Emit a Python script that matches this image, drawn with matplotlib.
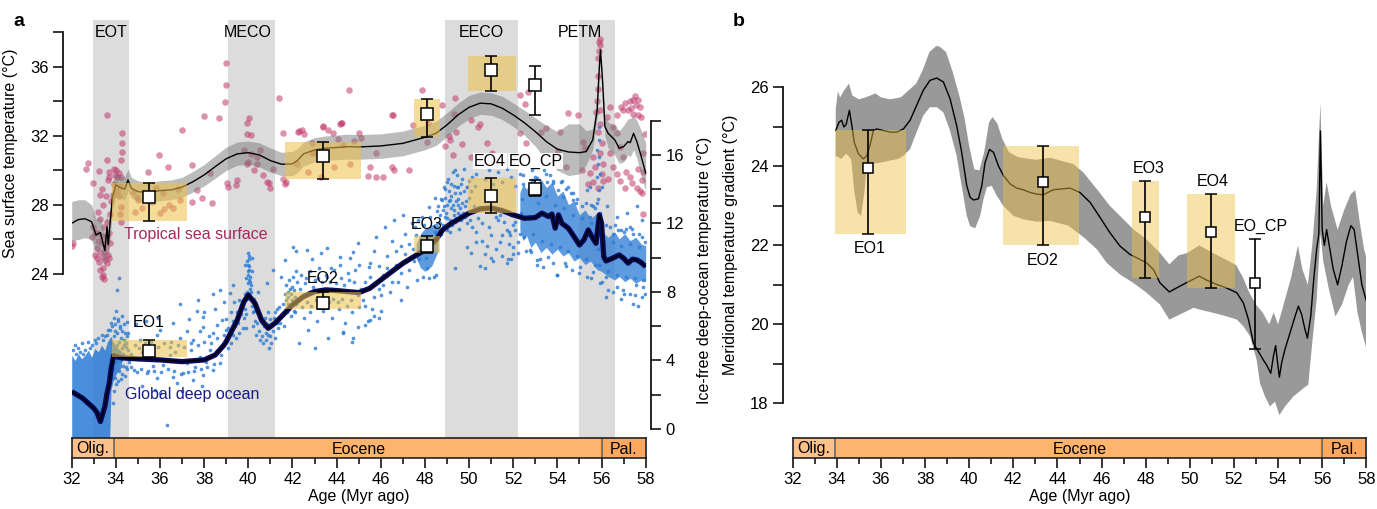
import numpy as np
import matplotlib.pyplot as plt
from matplotlib.ticker import MultipleLocator, FixedLocator

plt.rcParams['font.family'] = ['Liberation Sans', 'DejaVu Sans']
plt.rcParams['font.size'] = 11.5

# ---------------- data: panel a ----------------
events = ['EOT', 'MECO', 'EECO', 'PETM']
event_start = [32.95, 39.1, 48.9, 55.0]
event_end = [34.6, 41.2, 52.2, 56.6]
event_label_x = [33.78, 39.95, 50.55, 55.0]

# tropical SST smoothed curve and ribbon
sst_age = [32.0, 32.3, 32.6, 32.9, 33.1, 33.3, 33.5, 33.6, 33.65, 33.75, 33.85, 34.0, 34.2, 34.4,
           34.55, 34.7, 35.0, 35.5, 36.0, 36.5, 37.0, 37.5, 38.0, 38.5, 39.0, 39.5, 40.0, 40.5,
           41.0, 41.5, 42.0, 42.25, 42.5, 43.0, 43.5, 44.0, 44.5, 45.0, 46.0, 47.0, 48.0, 48.5,
           49.0, 49.5, 50.0, 50.5, 51.0, 51.5, 52.0, 52.5, 53.0, 53.5, 54.0, 54.5, 55.0, 55.3,
           55.6, 55.8, 55.9, 55.95, 56.05, 56.15, 56.3, 56.6, 56.8, 57.0, 57.2, 57.3, 57.45,
           57.6, 57.8, 58.0]
sst_mid = [26.94, 27.15, 27.2, 27.03, 26.26, 26.4, 25.35, 26.74, 25.7, 27.13, 28.48, 29.16, 29.0,
           28.91, 29.45, 28.97, 28.77, 28.71, 28.83, 28.87, 29.03, 29.35, 29.74, 30.22, 30.68,
           30.96, 31.03, 30.9, 30.57, 30.36, 30.38, 30.6, 30.96, 31.19, 31.29, 31.33, 31.38,
           31.36, 31.42, 31.57, 31.92, 32.15, 32.64, 33.22, 33.66, 33.9, 33.86, 33.61, 33.22,
           32.77, 32.25, 31.67, 31.23, 31.07, 31.03, 31.09, 31.77, 33.51, 36.02, 36.99, 35.06,
           32.54, 32.15, 31.77, 31.29, 31.38, 31.67, 31.61, 32.15, 31.67, 30.8, 29.84]
sst_lo = [25.9, 26.0, 26.1, 26.0, 25.3, 25.5, 24.5, 25.9, 24.9, 26.3, 27.7, 28.5, 28.4, 28.3,
          28.8, 28.4, 28.2, 28.15, 28.25, 28.3, 28.45, 28.75, 29.1, 29.55, 30.0, 30.3, 30.35,
          30.2, 29.9, 29.7, 29.7, 29.9, 30.25, 30.5, 30.6, 30.62, 30.65, 30.65, 30.7, 30.85,
          31.2, 31.45, 31.95, 32.55, 33.0, 33.25, 33.2, 32.95, 32.55, 32.05, 31.4, 30.6, 30.0,
          29.7, 29.8, 30.3, 31.2, 33.0, 35.6, 36.6, 34.6, 32.0, 31.3, 30.9, 30.4, 30.5, 30.9,
          30.8, 31.2, 30.7, 29.7, 28.8]
sst_hi = [28.2, 28.3, 28.3, 28.0, 27.2, 27.3, 26.3, 27.6, 26.6, 28.0, 29.3, 29.9, 29.7, 29.6,
          30.1, 29.6, 29.4, 29.3, 29.4, 29.45, 29.6, 29.95, 30.35, 30.85, 31.35, 31.65, 31.7,
          31.6, 31.3, 31.05, 31.1, 31.3, 31.65, 31.9, 32.0, 32.05, 32.1, 32.08, 32.12, 32.28,
          32.62, 32.85, 33.35, 33.9, 34.35, 34.55, 34.5, 34.3, 33.9, 33.5, 33.05, 32.6, 32.25,
          32.7, 32.7, 32.3, 32.4, 34.0, 36.4, 37.3, 35.5, 33.1, 32.8, 32.6, 32.3, 32.6, 33.0,
          33.0, 33.2, 32.9, 32.3, 31.6]

# tropical SST proxy points (age, deg C)
sst_pts = [
    (32.07, 25.78), (33.06, 25.1), (33.13, 25.49), (33.16, 26.36), (33.25, 24.71), (33.28, 25.29),
    (33.36, 25.78), (33.4, 24.33), (33.43, 23.94), (33.51, 24.81), (33.55, 25.58), (33.58, 26.16),
    (33.62, 24.62), (33.66, 25.1), (33.74, 25.78), (33.46, 26.74), (32.98, 26.74), (32.9, 26.16),
    (33.71, 26.36), (33.28, 24.23), (33.36, 23.85), (33.46, 23.73), (33.2, 25.9), (33.5, 25.3),
    (33.35, 26.2), (33.6, 25.9), (33.15, 24.9), (33.42, 25.0), (33.05, 26.4), (33.7, 24.9),
    (32.0, 25.6), (32.72, 30.45), (32.64, 30.1), (32.98, 29.29), (33.25, 29.99), (33.59, 33.22),
    (33.62, 30.61), (33.68, 29.9), (33.71, 29.6), (33.9, 30.1), (34.0, 30.0), (34.15, 29.85),
    (34.25, 29.6), (34.05, 29.6), (33.95, 29.75), (34.27, 32.15), (34.3, 31.57), (34.27, 31.09),
    (34.24, 30.6), (33.9, 29.2), (33.85, 28.6), (34.05, 28.8), (34.2, 29.1), (34.15, 28.5),
    (34.25, 27.9), (34.18, 27.5), (34.22, 27.0), (33.35, 28.9), (33.3, 28.6), (33.4, 28.0),
    (33.2, 27.6), (33.3, 27.2), (33.55, 28.5), (33.65, 29.45), (33.8, 28.2), (33.75, 27.5),
    (33.6, 27.0), (35.44, 29.93), (35.97, 30.9), (36.38, 30.22), (36.98, 32.35), (35.62, 28.19),
    (36.15, 28.68), (36.2, 27.75), (36.6, 27.8), (36.9, 28.29), (36.0, 27.52), (35.17, 27.81),
    (34.94, 28.48), (34.76, 28.77), (34.87, 27.61), (37.47, 30.32), (37.47, 28.19), (37.89, 28.39),
    (37.66, 28.87), (38.0, 33.18), (38.26, 29.84), (38.37, 28.1), (38.67, 33.02), (38.97, 36.25),
    (38.97, 34.96), (38.96, 33.99), (39.02, 29.29), (39.07, 29.06), (39.44, 29.16), (39.5, 29.45),
    (39.93, 32.77), (40.05, 33.02), (39.95, 32.1), (40.1, 32.06), (40.0, 30.51), (40.1, 30.94),
    (40.26, 30.03), (40.38, 30.4), (40.38, 30.8), (40.68, 29.74), (40.84, 29.35), (40.95, 29.25),
    (41.39, 34.22), (41.59, 32.15), (41.69, 29.31), (42.3, 32.3), (42.42, 32.35), (42.5, 32.1),
    (42.87, 31.0), (43.37, 32.5), (43.62, 32.35), (43.85, 32.15), (44.23, 32.73), (44.58, 34.67),
    (44.3, 31.48), (44.05, 31.8), (35.0, 28.3), (35.8, 29.0), (36.4, 28.0), (36.8, 28.9),
    (39.8, 31.2), (39.95, 30.4), (40.53, 31.19), (41.0, 29.0), (41.1, 30.1), (41.58, 29.5),
    (41.65, 29.2), (42.26, 32.2), (42.9, 31.6), (43.4, 32.55), (44.2, 32.75), (43.0, 31.0),
    (43.9, 30.2), (44.6, 30.4), (45.0, 32.15), (45.4, 29.7), (45.8, 29.6), (46.1, 29.6),
    (46.6, 30.0), (47.3, 30.0), (46.5, 33.2), (47.47, 32.64), (48.12, 32.73), (48.9, 31.4),
    (49.1, 32.0), (49.4, 32.2), (50.1, 32.9), (50.5, 32.7), (49.3, 33.3), (42.7, 29.9),
    (43.3, 29.6), (42.2, 30.4), (44.15, 32.7), (45.1, 31.9), (44.8, 31.7), (45.8, 31.0),
    (45.5, 30.2), (46.57, 33.22), (46.5, 30.2), (47.85, 34.67), (48.76, 33.8), (48.08, 31.67),
    (49.13, 31.77), (49.36, 34.18), (50.4, 32.54), (49.28, 30.9), (49.7, 31.54), (50.1, 30.8),
    (50.8, 31.57), (51.02, 30.99), (51.28, 30.38), (52.3, 34.38), (52.68, 34.57), (52.53, 33.86),
    (52.3, 32.15), (52.6, 31.57), (52.0, 30.8), (53.27, 32.25), (53.5, 32.45), (54.1, 32.25),
    (54.49, 33.31), (54.95, 33.2), (54.4, 30.2), (54.04, 31.1), (55.1, 30.0), (55.14, 31.67),
    (55.25, 31.28), (55.63, 30.8), (55.7, 30.2), (55.47, 29.84), (55.63, 29.35), (55.4, 29.2),
    (55.9, 37.47), (55.92, 37.25), (55.95, 37.6), (55.9, 36.9), (55.85, 36.5), (55.82, 35.5),
    (55.85, 34.7), (55.78, 34.0), (55.75, 33.4), (55.93, 32.7), (55.85, 32.2), (56.0, 31.6),
    (55.95, 31.0), (56.05, 30.4), (56.0, 29.8), (55.85, 29.0), (56.05, 29.4), (55.92, 33.5),
    (56.23, 33.12), (56.38, 33.7), (56.53, 32.54), (56.83, 31.38), (56.98, 33.5), (56.9, 33.7),
    (57.06, 33.9), (57.28, 34.0), (57.43, 34.1), (57.5, 34.3), (57.66, 34.1), (57.74, 33.7),
    (57.2, 33.5), (57.35, 33.6), (57.58, 33.8), (57.43, 33.3), (57.66, 33.2), (57.8, 33.1),
    (56.68, 33.2), (56.68, 32.15), (56.98, 30.8), (57.13, 29.93), (57.3, 29.6), (57.4, 29.3),
    (57.66, 30.1), (57.81, 29.45), (57.6, 29.0), (57.75, 28.8), (57.9, 29.9), (57.89, 27.5),
    (57.81, 28.68), (57.06, 29.0), (56.83, 29.4), (56.68, 29.8), (56.53, 30.2), (57.95, 32.1),
    (57.9, 31.0), (56.4, 31.0), (56.3, 29.5),
]

# deep-ocean smoothed curve
deep_age = [32.0, 32.5, 33.0, 33.15, 33.3, 33.5, 33.6, 33.7, 33.8, 33.9, 34.0, 34.2, 34.5, 35.0,
            36.0, 37.0, 38.0, 38.5, 38.9, 39.0, 39.5, 39.8, 40.0, 40.3, 40.6, 40.9, 41.2, 41.5,
            42.0, 42.5, 43.0, 43.5, 44.0, 44.5, 45.0, 45.5, 46.0, 46.5, 47.0, 47.5, 48.0, 48.5,
            48.8, 49.2, 49.6, 50.0, 50.5, 51.0, 51.5, 52.0, 52.5, 53.0, 53.3, 53.6, 53.75, 53.9,
            54.05, 54.2, 54.5, 54.8, 55.0, 55.2, 55.4, 55.6, 55.75, 55.9, 56.0, 56.1, 56.2, 56.5,
            56.8, 57.0, 57.2, 57.4, 57.6, 57.8, 58.0]
deep_mid = [2.18, 1.79, 1.21, 0.95, 0.43, 1.30, 2.08, 2.67, 3.64, 4.28, 4.22, 4.16, 4.13, 4.09,
            4.03, 3.93, 4.03, 4.32, 4.9, 5.1, 6.36, 7.43, 7.82, 7.34, 6.36, 5.88, 6.17, 6.56,
            7.24, 7.73, 8.02, 8.12, 8.08, 8.02, 7.96, 8.21, 8.7, 9.19, 9.67, 10.06, 10.45, 11.04,
            11.62, 12.01, 12.3, 12.6, 12.85, 12.9, 12.75, 12.5, 12.3, 12.34, 12.6, 12.4, 12.55,
            11.72, 12.5, 12.01, 11.72, 11.14, 10.74, 11.04, 11.62, 11.14, 10.84, 12.5, 12.01,
            10.06, 9.81, 9.97, 10.16, 9.97, 9.68, 9.91, 9.87, 9.71, 9.48]

# outlines of the densest point clouds (too many points to list one by one)
cloud1_age = [32.0, 32.15, 32.3, 32.45, 32.6, 32.75, 32.9, 33.05, 33.2, 33.35, 33.5, 33.62,
              33.72, 33.78, 33.9, 34.05, 34.25]
cloud1_lo = [-0.6, -0.6, -0.6, -0.6, -0.6, -0.6, -0.6, -0.6, -0.6, -0.6, -0.6, -0.6,
             -0.6, 2.3, 2.9, 3.3, 3.6]
cloud1_hi = [4.3, 4.0, 4.4, 4.1, 4.3, 4.6, 4.2, 4.7, 4.5, 4.9, 4.6, 5.1, 5.3, 5.4, 5.0, 4.8, 4.5]
cloud2_age = [52.3, 52.45, 52.6, 52.8, 53.0, 53.25, 53.5, 53.75, 54.0, 54.25, 54.5, 54.75, 55.0,
              55.25, 55.5, 55.8, 56.0, 56.3, 56.6, 56.8, 57.05, 57.3, 57.55, 57.8, 58.0]
cloud2_lo = [11.6, 11.0, 11.3, 10.6, 10.9, 10.3, 10.6, 10.2, 10.5, 10.1, 10.3, 9.8, 10.0, 9.6,
             9.8, 9.3, 9.2, 8.9, 8.7, 8.9, 8.6, 8.8, 8.5, 8.7, 8.6]
cloud2_hi = [13.8, 14.3, 14.0, 14.5, 14.3, 14.6, 14.1, 14.4, 13.6, 13.9, 13.1, 13.3, 12.5, 12.8,
             12.3, 12.6, 11.5, 11.2, 11.5, 11.1, 11.4, 11.0, 11.2, 10.8, 10.7]
cloud3_age = [47.6, 47.8, 48.0, 48.3, 48.6]
cloud3_lo = [10.0, 9.4, 9.2, 9.5, 10.4]
cloud3_hi = [10.8, 11.4, 11.7, 11.9, 12.1]

# deep-ocean proxy points (age, deg C)
deep_pts = [
    # EOT
    (32.05, 4.6), (32.15, 4.9), (32.3, 4.7), (32.45, 5.0), (32.6, 4.6), (32.75, 5.1), (32.9, 4.9),
    (33.05, 5.2), (33.2, 5.3), (33.35, 5.5), (33.5, 5.4), (33.65, 5.8), (32.2, 4.4), (32.38, 4.5),
    (32.52, 4.4), (32.82, 4.7), (33.12, 5.0), (33.42, 5.2), (33.58, 5.5),
    (33.75, 5.8), (33.8, 6.2), (33.9, 6.5), (34.0, 6.9), (34.1, 6.3), (34.2, 5.9), (34.3, 6.6),
    (34.4, 5.6), (34.05, 8.1), (34.15, 8.8), (33.95, 5.7), (34.25, 5.3), (34.35, 4.9), (34.5, 5.4),
    (34.45, 3.6), (34.3, 3.2), (34.1, 2.8), (33.9, 2.2), (33.85, 1.5), (33.95, 3.0), (34.55, 4.6),
    (34.6, 3.9), (34.49, 6.27),
    (33.78, 3.0), (33.8, 4.0), (33.82, 5.0), (33.84, 6.0), (33.88, 3.5), (33.9, 4.6), (33.92, 5.4),
    (33.96, 6.1), (34.0, 2.6), (34.02, 3.9), (34.04, 4.9), (34.06, 5.6), (34.08, 6.4), (34.12, 3.4),
    (34.14, 4.5), (34.16, 5.1), (34.18, 6.0), (34.22, 2.9), (34.24, 4.0), (34.26, 4.7), (34.28, 5.7),
    (34.32, 3.7), (34.34, 4.4), (34.36, 5.2), (34.38, 6.1), (34.42, 3.1), (34.44, 4.8), (34.48, 5.0),
    (34.52, 3.5), (34.56, 5.6),
    # late Eocene
    (35.1, 5.2), (35.85, 5.5), (36.0, 5.78), (36.45, 4.8), (36.9, 5.3), (37.2, 5.7), (37.5, 5.2),
    (37.8, 5.7), (37.96, 5.98), (38.2, 5.4), (38.4, 5.6), (38.57, 6.07), (38.8, 6.36), (39.0, 5.78),
    (36.6, 3.06), (37.06, 3.25), (36.75, 2.67), (35.85, 2.96), (35.4, 3.25), (34.8, 3.45),
    (37.5, 2.86), (37.96, 3.15), (38.4, 3.45), (38.7, 3.83), (36.3, 0.23), (35.77, 2.28),
    (34.7, 4.4), (36.15, 3.74), (37.2, 3.83), (38.1, 3.93), (35.55, 4.6), (36.45, 4.3), (37.4, 4.6),
    (38.27, 4.6), (37.8, 4.2), (35.2, 4.5), (35.7, 3.7), (36.7, 4.5), (37.6, 3.6), (38.4, 7.9),
    (38.7, 8.1), (37.7, 7.5), (36.9, 7.3), (37.66, 6.9), (37.96, 6.56), (39.17, 7.92), (39.32, 8.4),
    (34.7, 3.6), (34.85, 4.9), (34.95, 3.3), (35.05, 4.7), (35.15, 3.5), (35.3, 5.0), (35.45, 3.4),
    (35.6, 5.1), (35.75, 3.4), (35.9, 4.8), (36.05, 3.3), (36.2, 5.0), (36.35, 3.5), (36.5, 5.1),
    (36.65, 3.4), (36.8, 4.9), (36.95, 3.2), (37.1, 4.8), (37.25, 3.3), (37.4, 5.0), (37.55, 3.4),
    (37.7, 4.9), (37.85, 3.5), (38.0, 5.1), (38.15, 3.6), (38.3, 5.0), (38.45, 3.8), (38.6, 5.3),
    (38.75, 4.3), (34.9, 6.1), (35.35, 6.3), (35.9, 6.5), (36.6, 6.2), (37.3, 6.4), (38.0, 6.8),
    (38.5, 7.0), (38.9, 7.4), (35.2, 2.5), (36.0, 2.1), (37.0, 2.2), (37.9, 2.5),
    # MECO
    (40.0, 10.3), (40.02, 9.9), (39.98, 9.6), (40.05, 9.3), (40.0, 9.0), (40.03, 8.7), (39.97, 8.5),
    (40.07, 8.2), (40.0, 7.9), (39.95, 8.0), (40.08, 8.6), (40.04, 9.5), (40.1, 8.0), (39.92, 7.6),
    (40.01, 10.1), (39.99, 9.2), (40.06, 8.9), (39.96, 9.8), (40.12, 8.4), (40.18, 9.2),
    (39.88, 8.8), (39.84, 9.6), (40.15, 10.0),
    (39.2, 5.0), (39.4, 6.0), (39.5, 6.8), (39.6, 5.6), (39.7, 7.2), (39.8, 6.5), (39.85, 7.0),
    (39.3, 5.5), (39.1, 4.7), (39.6, 7.5), (40.2, 6.8), (40.3, 6.3), (40.4, 7.0), (40.5, 5.7),
    (40.6, 5.4), (40.7, 6.0), (40.8, 5.2), (40.9, 5.5), (41.0, 6.4), (41.1, 5.7), (41.2, 6.8),
    (41.3, 6.2), (41.4, 7.1), (41.5, 6.6), (40.35, 5.5), (40.55, 6.6), (40.45, 8.0), (40.25, 7.6),
    (41.05, 5.0), (40.95, 4.7), (39.9, 5.9), (41.13, 9.28), (41.5, 8.9), (40.83, 8.5), (41.66, 9.87),
    (38.9, 5.5), (39.0, 6.4), (39.1, 5.9), (39.2, 6.8), (39.3, 6.3), (39.35, 7.4), (39.45, 5.3),
    (39.55, 6.2), (39.65, 6.7), (39.75, 5.9), (39.85, 7.9), (39.9, 6.7), (40.15, 7.2), (40.2, 6.0),
    (40.28, 6.9), (40.4, 6.2), (40.48, 6.6), (40.52, 5.2), (40.62, 6.2), (40.68, 5.0), (40.75, 6.5),
    (40.78, 5.6), (40.85, 6.1), (40.9, 6.8), (41.0, 5.4), (41.05, 6.0), (41.15, 6.5), (41.2, 5.3),
    (41.3, 7.0), (41.35, 5.9), (41.45, 6.2), (41.55, 7.3), (41.6, 6.0),
    # middle Eocene
    (41.7, 7.5), (41.8, 8.0), (41.9, 7.2), (42.0, 8.3), (42.1, 7.7), (41.75, 6.8), (42.2, 8.6),
    (41.85, 8.7), (42.05, 6.9), (41.95, 7.9), (41.72, 7.0), (42.15, 7.3),
    (42.4, 9.0), (42.6, 8.8), (42.8, 9.2), (43.0, 8.7), (43.2, 9.4), (43.5, 9.0), (43.7, 8.6),
    (43.9, 9.3), (44.2, 8.8), (44.5, 9.1), (44.8, 8.6), (42.5, 6.5), (42.8, 6.8), (43.1, 6.3),
    (43.4, 6.9), (43.8, 6.5), (44.1, 7.0), (44.4, 6.2), (44.7, 6.8), (45.0, 7.1), (42.3, 5.0),
    (43.0, 4.7), (43.6, 5.3), (44.3, 5.6), (44.7, 5.1), (42.7, 5.8), (43.3, 10.3), (42.9, 9.9),
    (44.6, 10.0), (45.0, 9.6), (42.15, 10.4), (42.04, 10.65), (42.64, 10.45), (43.55, 10.55),
    (44.15, 10.06), (44.76, 10.36), (44.99, 10.84), (45.45, 9.48), (44.75, 5.3), (44.3, 5.66),
    (44.97, 5.95), (45.5, 6.34), (45.3, 6.05), (45.99, 6.9), (46.9, 7.5), (45.7, 6.6),
    (41.65, 7.9), (41.7, 8.4), (41.78, 7.3), (41.82, 7.7), (41.88, 8.2), (41.92, 6.6), (41.98, 7.5),
    (42.02, 8.9), (42.08, 8.1), (42.12, 6.8), (42.18, 9.2), (42.25, 7.6), (42.35, 8.2), (42.45, 7.1),
    (42.55, 8.5), (42.65, 7.4), (42.75, 8.0), (42.85, 7.2), (42.95, 8.3), (43.05, 7.5), (43.15, 8.8),
    (43.25, 7.3), (43.35, 8.6), (43.45, 7.7), (43.55, 8.9), (43.65, 7.4), (43.75, 9.4), (43.85, 7.6),
    (43.95, 8.5), (44.05, 7.4), (44.15, 9.6), (44.25, 7.6), (44.35, 8.4), (44.45, 7.2), (44.55, 8.7),
    (44.65, 7.5), (44.85, 9.3), (44.95, 7.8),
    (45.3, 8.6), (45.5, 9.7), (45.7, 10.4), (45.9, 8.2), (46.1, 9.0), (46.3, 10.1), (46.5, 11.0),
    (46.7, 9.6), (46.9, 10.7), (47.1, 11.4), (47.3, 9.3), (45.2, 7.5), (45.6, 7.0), (46.0, 7.8),
    (46.4, 8.0), (46.8, 8.6), (47.2, 8.3), (45.8, 11.2), (46.2, 11.8), (46.6, 12.2), (47.0, 12.5),
    (47.4, 12.0), (45.4, 6.3), (45.9, 6.5), (48.78, 13.37), (48.47, 13.47), (48.17, 12.98),
    (47.87, 12.4), (47.5, 9.8), (47.6, 11.3), (48.5, 9.0), (48.2, 8.8), (47.9, 8.9),
    (45.1, 8.2), (45.3, 7.2), (45.5, 8.9), (45.7, 7.7), (45.9, 9.5), (46.1, 8.4), (46.3, 9.4),
    (46.5, 8.6), (46.7, 10.4), (46.9, 9.1), (47.1, 10.2), (47.3, 10.8), (47.45, 10.5), (47.55, 11.8),
    (47.7, 12.2), (47.65, 8.7), (47.75, 9.9), (47.85, 10.9), (47.95, 11.9), (48.05, 10.0),
    (48.15, 11.2), (48.25, 12.4), (48.35, 10.4), (48.45, 11.5), (48.55, 12.7), (48.1, 9.4), (48.4, 8.9),
    # early Eocene
    (48.7, 12.0), (48.8, 12.8), (48.9, 13.5), (49.0, 12.3), (49.1, 13.9), (49.2, 12.9), (49.3, 14.2),
    (49.4, 13.3), (49.5, 12.6), (49.6, 13.8), (49.7, 14.6), (49.8, 13.0), (49.9, 14.1), (50.0, 13.5),
    (48.75, 11.4), (48.95, 11.8), (49.15, 11.5), (49.35, 12.1), (49.55, 11.7), (49.05, 14.6),
    (48.85, 14.1), (49.25, 15.0), (49.45, 14.8), (49.65, 12.2), (49.75, 15.2), (48.6, 13.0),
    (48.98, 14.44), (49.36, 15.12), (49.43, 14.15), (49.13, 13.37), (49.89, 14.15), (50.12, 14.73),
    (48.9, 12.4), (49.0, 13.1), (49.2, 13.6), (49.5, 13.1), (49.3, 12.5), (49.6, 12.9),
    (48.62, 11.6), (48.68, 12.5), (48.72, 13.4), (48.82, 11.9), (48.88, 13.0), (48.92, 14.0),
    (48.97, 12.6), (49.02, 11.6), (49.08, 13.3), (49.12, 12.2), (49.18, 14.3), (49.22, 11.9),
    (49.28, 13.1), (49.32, 12.8), (49.38, 13.8), (49.42, 12.3), (49.48, 14.1), (49.52, 13.4),
    (49.58, 12.5), (49.62, 14.3), (49.68, 13.2), (49.72, 12.6), (49.78, 13.9), (49.82, 12.4),
    (49.88, 13.3), (49.92, 12.0), (49.98, 14.5), (50.05, 12.2), (50.1, 13.9), (50.15, 11.8),
    (50.2, 13.0), (50.25, 14.2),
    (50.3, 11.5), (50.6, 11.0), (50.9, 11.8), (51.2, 10.5), (51.5, 11.3), (51.8, 10.8), (52.1, 11.6),
    (50.1, 10.3), (51.0, 10.0), (51.7, 9.7), (52.0, 10.2), (50.5, 9.5), (49.9, 10.6), (51.3, 12.2),
    (51.9, 12.5), (49.36, 9.38), (50.72, 9.38), (51.77, 9.95), (53.06, 9.6), (53.97, 9.0),
    (52.8, 10.35), (51.4, 12.5), (51.7, 11.6), (51.85, 11.3), (52.0, 10.65), (52.2, 10.3),
    (52.1, 12.1), (52.3, 11.4),
    (50.3, 14.9), (50.5, 15.4), (50.7, 14.6), (50.9, 15.1), (51.1, 14.3), (51.3, 15.0), (51.5, 14.4),
    (51.7, 15.2), (51.9, 14.7), (52.1, 14.2), (50.4, 12.3), (50.6, 12.0), (50.8, 10.7), (51.0, 11.3),
    (51.2, 12.4), (51.4, 10.9), (51.6, 12.1), (51.8, 11.5), (52.0, 11.9), (52.2, 10.9), (50.3, 10.9),
    (50.7, 10.2), (51.1, 9.8), (51.5, 10.1), (51.9, 9.9),
    # latest Paleocene - early Eocene
    (52.3, 14.9), (52.4, 15.5), (52.6, 15.9), (52.83, 15.1), (53.0, 14.7), (53.2, 14.15), (53.5, 14.9),
    (53.8, 14.5), (54.04, 15.3), (54.2, 14.5), (54.5, 14.15), (54.7, 13.8), (54.9, 13.4), (55.3, 13.2),
    (55.9, 16.9), (55.9, 15.9), (55.95, 14.9), (55.87, 17.65), (56.0, 14.15), (55.85, 13.4),
    (55.95, 12.6), (55.88, 11.4), (55.47, 14.15), (55.63, 13.0), (56.23, 13.0), (56.68, 12.4),
    (57.14, 12.6), (57.59, 13.0), (57.82, 12.2), (57.28, 11.8), (56.9, 11.6), (56.53, 11.4),
    (52.38, 13.4), (52.46, 14.3), (52.83, 14.54), (53.06, 14.64), (53.21, 14.15), (53.51, 14.44),
    (53.81, 14.35), (54.04, 13.96), (54.27, 13.57), (54.72, 13.37), (55.33, 13.96), (55.48, 12.4),
    (55.78, 16.29), (55.84, 15.5), (55.81, 14.7), (55.87, 13.96), (55.78, 13.2), (52.76, 10.45),
    (53.06, 9.87), (53.36, 9.48), (53.58, 10.06), (53.96, 9.0), (54.33, 9.67), (54.64, 9.28),
    (55.02, 9.48), (55.32, 8.9), (55.62, 9.19), (55.93, 8.5), (56.3, 8.1), (56.22, 8.9), (56.68, 8.3),
    (56.98, 8.1), (57.28, 7.9), (57.58, 8.4), (57.81, 7.7), (57.88, 8.3), (57.43, 7.3), (57.66, 7.2),
    (56.9, 7.6), (56.22, 7.73), (56.08, 11.4), (56.38, 11.8), (56.75, 11.6), (57.13, 11.7),
    (57.43, 11.4), (57.81, 11.2), (57.96, 10.9), (55.86, 10.5), (55.9, 9.6), (55.84, 12.2),
    (52.35, 12.6), (52.5, 11.2), (52.7, 13.7), (52.9, 11.4), (53.1, 13.2), (53.3, 11.0), (53.5, 13.6),
    (53.7, 10.8), (53.9, 13.1), (54.1, 10.6), (54.3, 12.9), (54.5, 10.4), (54.7, 12.5), (54.9, 10.1),
    (55.1, 12.3), (55.3, 9.9), (55.5, 12.0), (55.7, 9.6), (56.1, 10.8), (56.3, 9.2), (56.5, 10.9),
    (56.7, 9.0), (56.9, 10.7), (57.1, 8.9), (57.3, 10.8), (57.5, 8.8), (57.7, 10.6), (57.9, 8.7),
    (52.45, 14.8), (52.95, 15.3), (53.4, 15.1), (53.65, 14.8), (54.15, 14.4), (54.4, 14.0),
    (54.6, 13.8), (54.85, 13.2), (55.1, 13.0), (55.5, 13.1), (55.7, 12.9), (56.2, 11.9), (56.6, 11.9),
    (57.0, 11.5), (57.4, 11.7), (57.7, 11.4), (52.6, 10.4), (53.2, 9.9), (53.8, 9.7), (54.4, 9.5),
    (55.0, 9.1), (55.5, 8.8), (56.0, 8.6), (56.5, 8.0), (57.0, 7.9), (57.5, 7.8), (57.95, 7.9),
]

# EO time-slice estimates, panel a
eo_names = ['EO1', 'EO2', 'EO3', 'EO4', 'EO_CP']
eo_age = [35.5, 43.37, 48.08, 50.99, 52.98]
eo_win_lo = [33.84, 41.66, 47.5, 49.96, None]
eo_win_hi = [37.24, 45.1, 48.7, 52.12, None]
eo_sst = [28.44, 30.86, 33.29, 35.84, 34.94]
eo_sst_lo = [27.09, 29.51, 31.96, 34.63, 33.23]
eo_sst_hi = [29.29, 31.67, 34.13, 36.66, 36.04]
eo_deep = [4.57, 7.38, 10.69, 13.6, 14.0]
eo_deep_lo = [4.22, 6.99, 10.3, 12.6, 13.6]
eo_deep_hi = [5.2, 8.02, 11.25, 14.64, 14.54]

# ---------------- data: panel b ----------------
grad_age = [33.95, 34.1, 34.22, 34.32, 34.42, 34.57, 34.67, 34.79, 34.98, 35.2, 35.35, 35.5,
            35.66, 35.81, 36.11, 36.41, 36.71, 37.02, 37.32, 37.62, 37.92, 38.22, 38.53, 38.83,
            39.13, 39.43, 39.66, 39.89, 40.04, 40.19, 40.42, 40.57, 40.72, 40.92, 41.1, 41.32,
            41.55, 41.85, 42.15, 42.45, 42.76, 43.06, 43.36, 43.81, 44.57, 45.02, 45.48, 45.93,
            46.38, 46.84, 47.29, 48.04, 48.35, 48.65, 49.07, 49.56, 50.01, 50.43, 50.76, 51.22,
            51.67, 52.13, 52.43, 52.66, 52.88, 53.11, 53.33, 53.48, 53.67, 53.79, 53.89, 53.98,
            54.06, 54.16, 54.31, 54.54, 54.77, 54.92, 55.07, 55.22, 55.33, 55.48, 55.63, 55.75,
            55.85, 55.92, 56.0, 56.1, 56.2, 56.35, 56.5, 56.7, 56.9, 57.1, 57.3, 57.45, 57.6,
            57.8, 58.0]
grad_mid = [24.91, 25.12, 25.17, 25.0, 25.06, 25.42, 25.08, 24.61, 24.32, 24.19, 24.27, 24.53,
            24.91, 24.95, 24.91, 24.87, 24.87, 24.95, 25.17, 25.55, 25.93, 26.18, 26.24, 26.14,
            25.72, 25.04, 24.36, 23.51, 23.22, 23.15, 23.18, 23.51, 24.1, 24.43, 24.36, 24.02,
            23.77, 23.56, 23.45, 23.41, 23.34, 23.3, 23.28, 23.41, 23.45, 23.34, 23.09, 22.71,
            22.32, 21.98, 21.77, 21.56, 21.39, 21.05, 20.82, 20.97, 21.1, 21.22, 21.12, 21.01,
            20.92, 20.8, 20.54, 20.12, 19.53, 19.31, 19.1, 18.97, 18.76, 19.19, 19.46, 19.02,
            18.66, 19.02, 19.36, 19.78, 20.2, 20.46, 20.25, 19.87, 19.65, 20.2, 21.22, 21.9,
            22.3, 24.9, 22.4, 22.0, 22.4, 21.9, 21.4, 21.0, 21.5, 22.1, 22.5, 22.4, 21.8,
            21.0, 20.6]
grad_up_age = [33.95, 34.05, 34.15, 34.3, 34.55, 34.7, 35.0, 35.3, 35.75, 36.0, 36.4, 36.9, 37.3,
               37.6, 37.9, 38.2, 38.5, 38.65, 38.95, 39.25, 39.55, 39.78, 40.0, 40.23, 40.46,
               40.68, 40.9, 41.06, 41.28, 41.5, 41.8, 42.2, 42.6, 43.06, 43.66, 44.12, 44.72,
               45.17, 45.78, 46.38, 46.99, 47.44, 48.04, 48.65, 49.07, 49.5, 49.86, 50.43, 51.07,
               51.67, 52.1, 52.4, 52.7, 53.0, 53.3, 53.6, 53.8, 54.0, 54.3, 54.6, 54.9, 55.1,
               55.35, 55.55, 55.75, 55.92, 56.05, 56.2, 56.4, 56.7, 57.0, 57.3, 57.5, 57.7, 57.9,
               58.0]
grad_up = [25.45, 25.9, 25.75, 25.9, 26.1, 25.8, 25.7, 25.75, 25.85, 25.75, 25.7, 25.75, 25.95,
           26.1, 26.45, 26.9, 27.05, 27.04, 26.9, 26.4, 25.8, 25.25, 24.52, 23.93, 23.9, 24.36,
           25.12, 25.25, 25.08, 24.7, 24.36, 24.24, 24.2, 24.17, 24.22, 24.15, 24.06, 23.85,
           23.43, 23.0, 22.66, 22.41, 22.15, 21.81, 21.52, 21.75, 21.8, 22.0, 21.8, 21.63, 21.5,
           21.2, 20.8, 20.5, 20.3, 20.0, 20.3, 20.0, 20.6, 21.2, 22.0, 21.4, 21.0, 22.0, 23.4,
           25.6, 23.0, 23.6, 23.0, 22.4, 22.9, 23.3, 23.4, 22.6, 21.9, 21.7]
grad_lo_age = [33.95, 34.2, 34.42, 34.65, 34.8, 34.95, 35.1, 35.25, 35.35, 35.66, 36.11, 36.41,
               36.79, 37.02, 37.32, 37.62, 37.92, 38.22, 38.53, 38.83, 39.13, 39.43, 39.66, 39.89,
               40.04, 40.27, 40.5, 40.65, 40.8, 41.02, 41.25, 41.55, 42.0, 42.45, 43.06, 43.66,
               44.5, 45.2, 45.79, 46.23, 46.84, 47.44, 48.04, 48.65, 49.07, 49.56, 50.17, 50.47,
               51.07, 51.68, 52.13, 52.43, 52.73, 53.03, 53.18, 53.41, 53.63, 53.86, 54.06, 54.32,
               54.69, 55.15, 55.37, 55.52, 55.75, 55.92, 56.05, 56.3, 56.6, 56.9, 57.2, 57.4,
               57.6, 57.8, 58.0]
grad_lo = [24.27, 24.19, 24.32, 24.19, 23.34, 22.83, 22.75, 23.34, 23.98, 24.07, 24.11, 24.15,
           24.19, 24.27, 24.44, 24.87, 25.29, 25.5, 25.5, 25.37, 24.91, 24.27, 23.51, 22.75,
           22.49, 22.43, 22.75, 23.17, 23.47, 23.51, 23.26, 23.0, 22.75, 22.66, 22.6, 22.62,
           22.5, 22.2, 21.9, 21.56, 21.26, 21.05, 20.8, 20.5, 20.12, 20.25, 20.42, 20.37, 20.29,
           20.2, 20.12, 19.95, 19.7, 19.1, 18.51, 18.17, 17.92, 18.04, 17.7, 17.92, 18.17, 18.38,
           18.47, 19.36, 20.63, 22.3, 21.6, 20.9, 20.2, 20.5, 21.0, 21.2, 20.3, 19.8, 19.4]

eob_age = [35.43, 43.33, 47.98, 50.96, 52.96]
eob_win_lo = [33.92, 41.55, 47.4, 49.86, None]
eob_win_hi = [37.12, 44.98, 48.6, 52.03, None]
eob_val = [23.97, 23.6, 22.71, 22.35, 21.05]
eob_lo = [22.3, 22.0, 21.17, 20.92, 19.37]
eob_hi = [24.93, 24.51, 23.64, 23.31, 22.17]

epochs = ['Olig.', 'Eocene', 'Pal.']
epoch_start = [32.0, 33.9, 56.0]
epoch_end = [33.9, 56.0, 58.0]
epoch_colors = ['#FDC28C', '#FDB46C', '#FDA860']

# ---------------- styling ----------------
pink = '#C0396B'
blue = '#2A7BD5'
navy = '#0B0B5C'
band_gray = '#DCDCDC'
yellow = '#EEC044'

W, H = 1377, 509


def box(x0, y0, x1, y1):
    return [x0 / W, 1 - y1 / H, (x1 - x0) / W, (y1 - y0) / H]


def geo_bar(gax):
    for name, s, e, c in zip(epochs, epoch_start, epoch_end, epoch_colors):
        gax.axvspan(s, e, color=c, lw=0)
        if s > 32.0:
            gax.axvline(s, color='#666666', lw=1.2)
    gax.text(32.2, 0.45, epochs[0], ha='left', va='center', fontsize=11.5)
    gax.text(45.0, 0.45, epochs[1], ha='center', va='center', fontsize=11.5)
    gax.text(57.0, 0.45, epochs[2], ha='center', va='center', fontsize=11.5)
    gax.set_xlim(32, 58)
    gax.set_ylim(0, 1)
    gax.set_yticks([])
    gax.xaxis.set_major_locator(MultipleLocator(2))
    gax.xaxis.set_minor_locator(MultipleLocator(1))
    gax.tick_params(axis='x', which='major', length=7, width=1.1, labelsize=12, pad=3)
    gax.tick_params(axis='x', which='minor', length=4, width=1.1)
    for sp in gax.spines.values():
        sp.set_linewidth(1.2)
        sp.set_color('#222222')


def style_yaxis(a, side, major, minor, bounds, offset):
    a.spines[side].set_position(('outward', offset))
    a.spines[side].set_bounds(*bounds)
    a.spines[side].set_linewidth(1.2)
    a.yaxis.set_major_locator(FixedLocator(major))
    a.yaxis.set_minor_locator(FixedLocator(minor))
    a.tick_params(axis='y', which='both', length=7, width=1.1, labelsize=12)


fig = plt.figure(figsize=(W / 100, H / 100), dpi=100)

# ================= panel a =================
ax = fig.add_axes(box(71.7, 20, 645.7, 438))
ax2 = ax.twinx()
ax.set_xlim(32, 58)
ax.set_ylim(14.49, 38.72)
ax2.set_ylim(-0.53, 23.88)

for s, e in zip(event_start, event_end):
    ax.axvspan(s, e, color=band_gray, lw=0, zorder=0)
for name, xl in zip(events, event_label_x):
    ax.text(xl, 37.97, name, ha='center', va='center', fontsize=11.5, zorder=5)

sp = np.array(sst_pts)
ax.scatter(sp[:, 0], sp[:, 1], s=22, color=pink, alpha=0.55, lw=0, zorder=2)
ax.fill_between(sst_age, sst_lo, sst_hi, color='#7a7a7a', alpha=0.5, lw=0, zorder=3)
ax.plot(sst_age, sst_mid, color='black', lw=1.0, zorder=4)

for i in range(4):
    ax.fill_between([eo_win_lo[i], eo_win_hi[i]], eo_sst_lo[i], eo_sst_hi[i],
                    color=yellow, alpha=0.55, lw=0, zorder=5)
ax.errorbar(eo_age, eo_sst, yerr=[np.array(eo_sst) - np.array(eo_sst_lo),
                                  np.array(eo_sst_hi) - np.array(eo_sst)],
            fmt='s', ms=8, mfc='white', mec='black', mew=1.1, ecolor='black',
            elinewidth=1.2, capsize=4, capthick=1.2, zorder=6)
ax.text(37.6, 26.26, 'Tropical sea surface', color='#A8285E', fontsize=11.5,
        ha='center', va='center', zorder=6)

# deep ocean on the right axis
ax2.fill_between(cloud1_age, cloud1_lo, cloud1_hi, color=blue, alpha=0.85, lw=0, zorder=1)
ax2.fill_between(cloud2_age, cloud2_lo, cloud2_hi, color=blue, alpha=0.75, lw=0, zorder=1)
ax2.fill_between(cloud3_age, cloud3_lo, cloud3_hi, color=blue, alpha=0.75, lw=0, zorder=1)
dp = np.array(deep_pts)
ax2.scatter(dp[:, 0], dp[:, 1], s=7, color=blue, alpha=0.8, lw=0, zorder=2)
ax2.plot(deep_age, deep_mid, color=navy, lw=3.8, solid_capstyle='butt', zorder=3)
ax2.plot(deep_age, deep_mid, color='black', lw=1.0, zorder=4)
for i in range(4):
    ax2.fill_between([eo_win_lo[i], eo_win_hi[i]], eo_deep_lo[i], eo_deep_hi[i],
                     color=yellow, alpha=0.55, lw=0, zorder=5)
ax2.errorbar(eo_age, eo_deep, yerr=[np.array(eo_deep) - np.array(eo_deep_lo),
                                    np.array(eo_deep_hi) - np.array(eo_deep)],
             fmt='s', ms=8, mfc='white', mec='black', mew=1.1, ecolor='black',
             elinewidth=1.2, capsize=4, capthick=1.2, zorder=6)
ax2.text(35.47, 5.8, 'EO1', ha='center', va='bottom', fontsize=11.5, zorder=7)
ax2.text(43.35, 8.35, 'EO2', ha='center', va='bottom', fontsize=11.5, zorder=7)
ax2.text(48.1, 11.5, 'EO3', ha='center', va='bottom', fontsize=11.5, zorder=7)
ax2.text(50.95, 15.2, 'EO4', ha='center', va='bottom', fontsize=11.5, zorder=7,
         bbox=dict(facecolor='white', edgecolor='none', pad=0.5, alpha=0.9))
ax2.text(53.0, 15.2, 'EO_CP', ha='center', va='bottom', fontsize=11.5, zorder=7,
         bbox=dict(facecolor='white', edgecolor='none', pad=0.5, alpha=0.9))
ax2.text(37.45, 1.99, 'Global deep ocean', color='#1A1A8A', fontsize=11.5,
         ha='center', va='center', zorder=7)

# axes styling panel a
for a in (ax, ax2):
    for k in ('top', 'bottom'):
        a.spines[k].set_visible(False)
    a.set_xticks([])
    a.xaxis.set_minor_locator(plt.NullLocator())
ax.spines['right'].set_visible(False)
ax2.spines['left'].set_visible(False)
style_yaxis(ax, 'left', [24, 28, 32, 36], [26, 30, 34, 38], (24, 38), 6)
style_yaxis(ax2, 'right', [0, 4, 8, 12, 16], [2, 6, 10, 14, 18], (0, 18), 4)
ax.set_ylabel('Sea surface temperature (°C)', fontsize=11.5)
ax.yaxis.set_label_coords(-0.094, 0.682)
ax2.set_ylabel('Ice-free deep-ocean temperature (°C)', fontsize=11.5)
ax2.yaxis.set_label_coords(1.09, 0.40)

gax = fig.add_axes(box(71.7, 438, 645.7, 458))
geo_bar(gax)
fig.text(359 / W, 1 - 497 / H, 'Age (Myr ago)', ha='center', va='center', fontsize=11.5)
fig.text(19 / W, 1 - 22 / H, 'a', ha='center', va='center', fontsize=14, fontweight='bold')

# ================= panel b =================
bx = fig.add_axes(box(792.7, 20, 1366.3, 438))
bx.set_xlim(32, 58)
bx.set_ylim(17.12, 27.71)
poly_x = list(grad_up_age) + list(grad_lo_age[::-1])
poly_y = list(grad_up) + list(grad_lo[::-1])
bx.fill(poly_x, poly_y, color='#808080', alpha=0.8, lw=0, zorder=2)
bx.plot(grad_age, grad_mid, color='black', lw=1.0, zorder=3)
for i in range(4):
    bx.fill_between([eob_win_lo[i], eob_win_hi[i]], eob_lo[i], eob_hi[i],
                    color=yellow, alpha=0.45, lw=0, zorder=4)
bx.errorbar(eob_age, eob_val, yerr=[np.array(eob_val) - np.array(eob_lo),
                                    np.array(eob_hi) - np.array(eob_val)],
            fmt='s', ms=7.5, mfc='white', mec='black', mew=1.1, ecolor='black',
            elinewidth=1.2, capsize=4, capthick=1.2, zorder=6)
bx.text(35.5, 22.1, 'EO1', ha='center', va='top', fontsize=11.5)
bx.text(43.35, 21.8, 'EO2', ha='center', va='top', fontsize=11.5)
bx.text(48.15, 23.75, 'EO3', ha='center', va='bottom', fontsize=11.5)
bx.text(51.05, 23.42, 'EO4', ha='center', va='bottom', fontsize=11.5)
bx.text(53.2, 22.3, 'EO_CP', ha='center', va='bottom', fontsize=11.5)

for k in ('top', 'bottom', 'right'):
    bx.spines[k].set_visible(False)
bx.set_xticks([])
bx.xaxis.set_minor_locator(plt.NullLocator())
style_yaxis(bx, 'left', [18, 20, 22, 24, 26], [19, 21, 23, 25], (18, 26), 7)
bx.set_ylabel('Meridional temperature gradient (°C)', fontsize=11.5)
bx.yaxis.set_label_coords(-0.095, 0.462)

gbx = fig.add_axes(box(792.7, 438, 1366.3, 458))
geo_bar(gbx)
fig.text(1080 / W, 1 - 497 / H, 'Age (Myr ago)', ha='center', va='center', fontsize=11.5)
fig.text(739 / W, 1 - 21 / H, 'b', ha='center', va='center', fontsize=14, fontweight='bold')

fig.savefig('out.png', dpi=100)
